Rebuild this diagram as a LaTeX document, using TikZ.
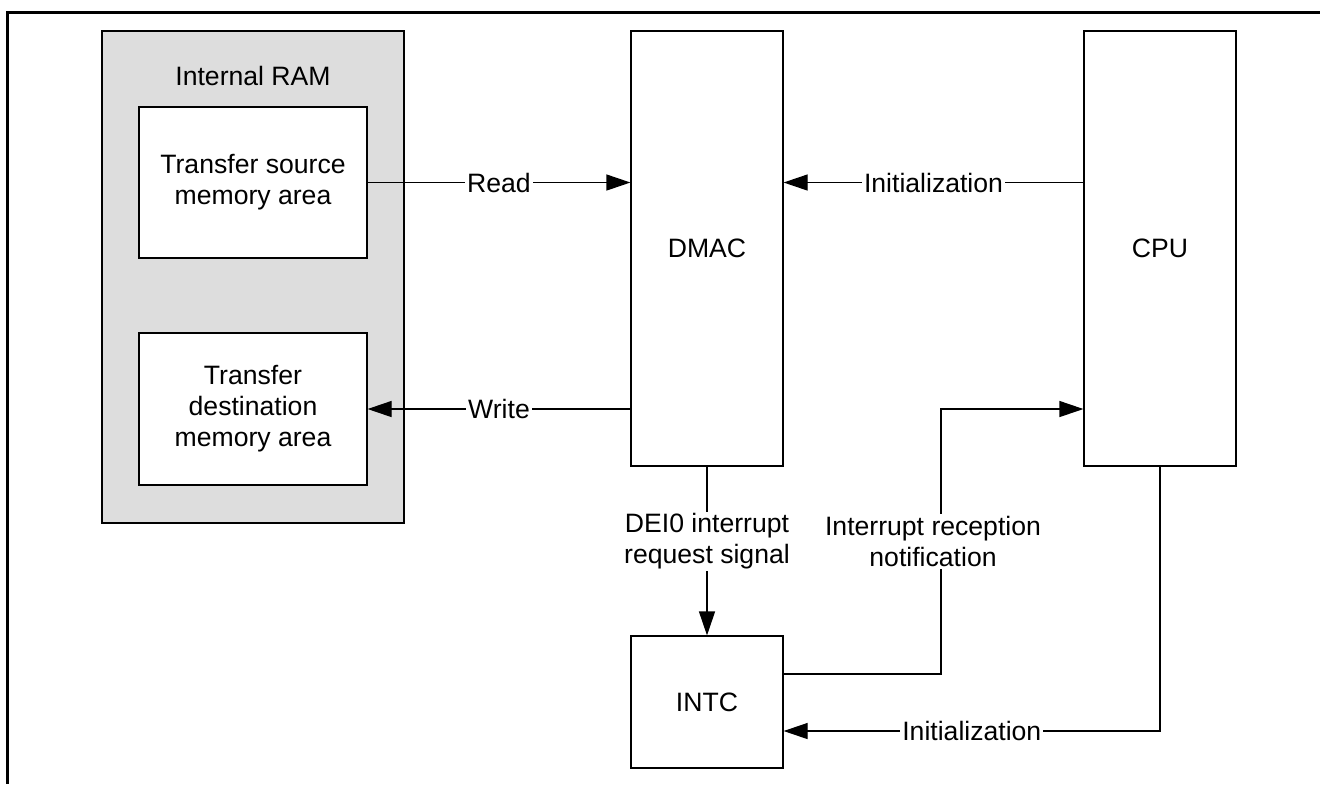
\documentclass[tikz,border=0pt]{standalone}
\usepackage{fontspec}
\setmainfont{Liberation Sans}
\usetikzlibrary{arrows.meta,positioning}
\definecolor{ramgray}{RGB}{221,221,221}
\tikzset{
    block/.style={
           rectangle,
           draw=black, line width=0.6pt,
           fill=white,
           minimum width=76pt,
           align=center,
           inner sep=0pt
           },
    lbl/.style={
           fill=white,
           inner sep=1pt,
           align=center
           },
    flow/.style={
           ->, line width=0.6pt
           }
}

\begin{document}
\begin{tikzpicture}[x=0.5pt, y=-0.5pt, >={Triangle[length=12pt,width=8pt]}, node distance=1cm, on grid, font=\fontsize{13.3}{15.5}\selectfont]
   \useasboundingbox (0,0) rectangle (1320,784);
   % frame
   \draw[line width=1.5pt] (1320,12.5) -- (7.5,12.5) -- (7.5,784);

   \node[block, minimum height=217.5pt] (dmac) at (707,248.5) {DMAC};
   \node[block, minimum height=217.5pt] (cpu) [right=226.5pt of dmac] {CPU};
   \node[block, minimum height=66pt] (intc) [below=226.75pt of dmac] {INTC};

   \node[block, fill=ramgray, line width=0.8pt, minimum width=151pt, minimum height=246pt] (ram) at (253,277) {};
   \node (ramlbl) [below=14.5pt of ram.north] {Internal RAM};
   \node[block, minimum width=114pt, minimum height=75.5pt] (src) at (253,182.5) {Transfer source\\memory area};
   \node[block, minimum width=114pt, minimum height=76pt] (dst) [below=113.25pt of src] {Transfer\\destination\\memory area};

   \draw[flow] (src.east) -- node[lbl] {Read} (src.east -| dmac.west);
   \draw[flow] (dst.east -| dmac.west) -- node[lbl] {Write} (dst.east);
   \draw[flow] (src.east -| cpu.west) -- node[lbl] {Initialization} (src.east -| dmac.east);
   \draw[flow] (dmac.south) -- node[lbl, pos=0.444] {DEI0 interrupt\\request signal} (intc.north);

   \coordinate (notif) at (941,674);
   \draw[flow] (intc.east |- notif) -- (notif) -- (notif |- dst.east) -- (dst.east -| cpu.west);
   \node[lbl] (notiflbl) at (933,541.5) {Interrupt reception\\notification};

   \coordinate (cpuinit) at (1161,731);
   \draw[flow] (cpu.south |- dmac.south) -- (cpu.south |- cpuinit) -- node[lbl] {Initialization} (cpuinit -| intc.east);
\end{tikzpicture}
\end{document}
